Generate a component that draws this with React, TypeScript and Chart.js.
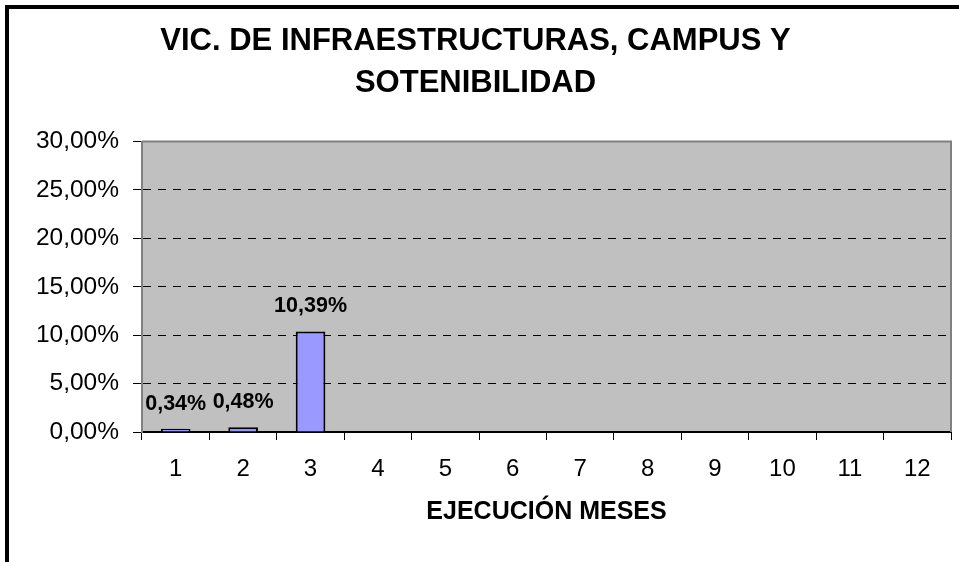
import React, { useEffect, useRef } from "react";
import { Chart, registerables } from "chart.js";

Chart.register(...registerables);

const TITLE_LINES = ["VIC. DE INFRAESTRUCTURAS, CAMPUS Y", "SOTENIBILIDAD"];
const MONTHS = ["1", "2", "3", "4", "5", "6", "7", "8", "9", "10", "11", "12"];
const EXECUTION = [0.34, 0.48, 10.39, null, null, null, null, null, null, null, null, null];
const Y_MIN = 0;
const Y_MAX = 30;
const Y_STEP = 5;
const X_TITLE = "EJECUCIÓN MESES";

const FONT = "Arial, 'Liberation Sans', Helvetica, sans-serif";

const fmtPct = (v: number) => v.toFixed(2).replace(".", ",") + "%";

const plotBg = {
  id: "plotBg",
  beforeDraw(chart: any) {
    const { ctx, chartArea: a } = chart;
    ctx.save();
    ctx.fillStyle = "#C0C0C0";
    ctx.fillRect(a.left, a.top, a.right - a.left, a.bottom - a.top);
    ctx.restore();
  },
  beforeDatasetsDraw(chart: any) {
    const { ctx, chartArea: a } = chart;
    ctx.save();
    ctx.strokeStyle = "#808080";
    ctx.lineWidth = 2;
    ctx.beginPath();
    ctx.moveTo(a.left, a.top);
    ctx.lineTo(a.right, a.top);
    ctx.lineTo(a.right, a.bottom);
    ctx.stroke();
    ctx.restore();
  },
};

const dataLabels = {
  id: "dataLabels",
  afterDatasetsDraw(chart: any) {
    const { ctx } = chart;
    const meta = chart.getDatasetMeta(0);
    const data = chart.data.datasets[0].data;
    ctx.save();
    ctx.font = `bold 21.5px ${FONT}`;
    ctx.fillStyle = "#000";
    ctx.textAlign = "center";
    ctx.textBaseline = "alphabetic";
    meta.data.forEach((el: any, i: number) => {
      const v = data[i];
      if (v === null || v === undefined) return;
      ctx.fillText(fmtPct(v), el.x, el.y - 19);
    });
    ctx.restore();
  },
};

export default function App() {
  const ref = useRef<HTMLCanvasElement | null>(null);

  useEffect(() => {
    if (!ref.current) return;
    const chart = new Chart(ref.current, {
      type: "bar",
      data: {
        labels: MONTHS,
        datasets: [
          {
            data: EXECUTION as any,
            backgroundColor: "#9999FF",
            borderColor: "#000000",
            borderWidth: 2,
            barPercentage: 0.44,
            categoryPercentage: 1,
          },
        ],
      },
      options: {
        animation: false,
        responsive: false,
        maintainAspectRatio: false,
        layout: { padding: { left: 0, right: 8, top: 0, bottom: 0 } },
        plugins: {
          legend: { display: false },
          tooltip: { enabled: false },
          title: {
            display: true,
            text: TITLE_LINES,
            color: "#000",
            font: { family: FONT, size: 31, weight: "bold", lineHeight: 1.34 },
            padding: { top: 21, bottom: 37.5 },
          },
        },
        scales: {
          x: {
            grid: {
              display: true,
              drawOnChartArea: false,
              drawTicks: true,
              tickLength: 8,
              tickColor: "#000",
              tickWidth: 1,
              offset: true,
            },
            border: { display: true, color: "#000", width: 2 },
            ticks: {
              color: "#000",
              font: { family: FONT, size: 24 },
              padding: 15,
              maxRotation: 0,
              autoSkip: false,
            },
            title: {
              display: true,
              text: X_TITLE,
              color: "#000",
              font: { family: FONT, size: 25, weight: "bold" },
              padding: { top: 0, bottom: 35 },
            },
            afterFit(scale: any) {
              scale.height = 130;
            },
          },
          y: {
            min: Y_MIN,
            max: Y_MAX,
            grid: {
              color: (c: any) =>
                c.tick && (c.tick.value === Y_MIN || c.tick.value === Y_MAX) ? "rgba(0,0,0,0)" : "#000",
              lineWidth: 1,
              tickLength: 9,
              tickColor: "#000",
              tickWidth: 1,
              drawTicks: true,
            },
            border: { display: true, color: "#808080", width: 2, dash: [8, 7] },
            ticks: {
              stepSize: Y_STEP,
              color: "#000",
              font: { family: FONT, size: 24.5 },
              padding: 14,
              callback: (v: any) => fmtPct(Number(v)),
            },
            afterFit(scale: any) {
              scale.width = 142;
            },
          },
        },
      },
      plugins: [plotBg, dataLabels],
    });
    return () => chart.destroy();
  }, []);

  return (
    <div style={{ position: "fixed", left: 0, top: 0, width: 959, height: 562, background: "#fff" }}>
      <canvas ref={ref} width={959} height={562} style={{ display: "block", width: 959, height: 562 }} />
      <div
        style={{
          position: "absolute",
          left: 5,
          top: 5,
          width: 959,
          height: 562,
          borderLeft: "4px solid #000",
          borderTop: "4px solid #000",
          pointerEvents: "none",
        }}
      />
    </div>
  );
}
